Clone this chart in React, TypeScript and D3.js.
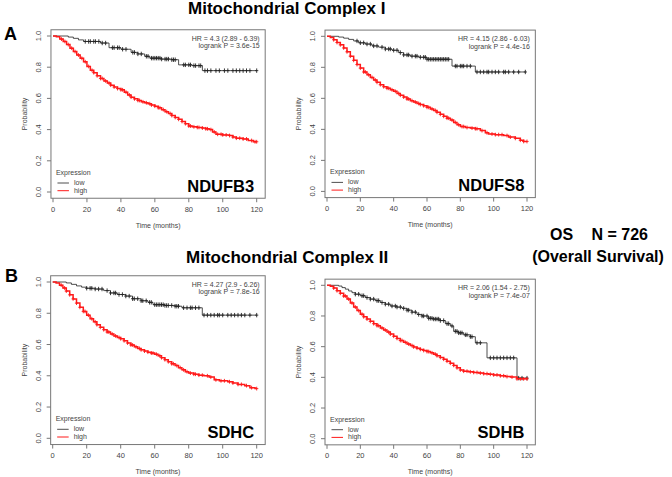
import React from 'react';
import * as d3 from 'd3';

type Pt = [number, number];

// Kaplan-Meier steps: [time (months), survival probability]
const lowNdufb3: Pt[] = [[0, 1], [9, 0.993], [12, 0.985], [15, 0.975], [18, 0.965], [28, 0.955], [33, 0.925], [40, 0.915], [46, 0.895], [50, 0.885], [54, 0.87], [57, 0.858], [64, 0.852], [70, 0.848], [74, 0.815], [82, 0.81], [88, 0.778]];
const lowNdufb3Cens = [19, 21, 22, 24, 25, 27, 29, 31, 35, 36, 38, 39, 41, 43, 47, 48, 50, 52, 55, 56, 58, 59, 60, 61, 62, 63, 64, 66, 67, 68, 70, 71, 72, 77, 78, 80, 81, 83, 84, 86, 87, 89.5, 91, 93, 96, 98, 101, 103, 106, 108, 110, 112, 114, 116, 120];
const highNdufb3: Pt[] = [[0, 1], [2, 0.995], [4, 0.98], [6, 0.965], [8, 0.945], [10, 0.922], [12, 0.9], [14, 0.878], [16, 0.857], [18, 0.835], [20, 0.805], [22, 0.78], [24, 0.765], [26, 0.745], [28, 0.728], [30, 0.712], [32, 0.698], [34, 0.685], [36, 0.673], [38, 0.663], [40, 0.655], [42, 0.64], [44, 0.622], [46, 0.608], [48, 0.597], [50, 0.587], [52, 0.578], [54, 0.572], [56, 0.566], [58, 0.558], [60, 0.55], [62, 0.54], [64, 0.528], [66, 0.515], [68, 0.503], [70, 0.49], [72, 0.478], [74, 0.466], [76, 0.452], [78, 0.438], [80, 0.423], [82, 0.418], [85, 0.414], [88, 0.41], [90, 0.405], [92, 0.4], [94, 0.385], [96, 0.37], [100, 0.366], [104, 0.362], [106, 0.352], [108, 0.345], [112, 0.34], [115, 0.33], [118, 0.322]];
const highNdufb3Cens = [5, 7, 9, 11, 13, 15, 17, 19, 21, 23, 24, 26, 28, 29, 31, 33, 34, 36, 38, 40, 41, 43, 45, 46, 48, 50, 51, 53, 55, 57, 58, 60, 62, 63, 65, 67, 69, 70, 72, 74, 76, 78, 80, 81, 83, 85, 86, 88, 90, 91, 93, 95, 97, 99, 100, 102, 104, 106, 108, 110, 112, 114, 117, 119, 120];

const lowNdufs8: Pt[] = [[0, 1], [7, 0.995], [10, 0.988], [13, 0.98], [16, 0.97], [19, 0.958], [23, 0.95], [27, 0.938], [31, 0.93], [35, 0.918], [39, 0.91], [43, 0.895], [46, 0.88], [50, 0.872], [55, 0.865], [60, 0.852], [75, 0.808], [89, 0.77]];
const lowNdufs8Cens = [18, 20, 22, 24, 26, 28, 30, 33, 35, 37, 38, 40, 42, 44, 46, 48, 49, 51, 53, 54, 56, 58, 59, 60, 61, 62, 63, 64, 65, 66, 67, 68, 69, 70, 71, 72, 73, 77, 78, 80, 81, 82, 84, 86, 90, 92, 94, 96, 97, 99, 101, 103, 106, 107, 109, 112, 115, 119];
const highNdufs8: Pt[] = [[0, 1], [2, 0.992], [4, 0.978], [6, 0.96], [8, 0.945], [10, 0.925], [12, 0.9], [14, 0.872], [16, 0.845], [18, 0.818], [20, 0.795], [22, 0.77], [24, 0.752], [26, 0.735], [28, 0.718], [30, 0.703], [32, 0.688], [34, 0.675], [36, 0.665], [38, 0.655], [40, 0.645], [42, 0.632], [44, 0.62], [46, 0.608], [48, 0.596], [50, 0.585], [52, 0.576], [54, 0.567], [56, 0.56], [58, 0.552], [60, 0.542], [62, 0.532], [64, 0.522], [66, 0.51], [68, 0.497], [70, 0.484], [72, 0.472], [74, 0.46], [76, 0.445], [78, 0.43], [80, 0.418], [83, 0.412], [86, 0.408], [89, 0.404], [92, 0.392], [95, 0.378], [97, 0.37], [101, 0.366], [106, 0.36], [109, 0.35], [113, 0.342], [116, 0.33], [118, 0.322]];
const highNdufs8Cens = [4, 6, 8, 10, 12, 14, 16, 18, 20, 22, 23, 25, 27, 29, 30, 32, 34, 36, 37, 39, 41, 43, 44, 46, 48, 49, 51, 53, 55, 56, 58, 60, 61, 63, 65, 66, 68, 70, 72, 73, 75, 77, 79, 81, 82, 84, 87, 89, 90, 93, 96, 99, 101, 103, 105, 108, 110, 113, 116, 118, 120];

const lowSdhc: Pt[] = [[0, 1], [8, 0.994], [11, 0.985], [14, 0.975], [17, 0.967], [20, 0.96], [25, 0.955], [30, 0.945], [34, 0.93], [38, 0.92], [43, 0.91], [47, 0.893], [52, 0.88], [56, 0.87], [59, 0.855], [66, 0.85], [72, 0.845], [76, 0.835], [88, 0.788]];
const lowSdhcCens = [20, 22, 23, 25, 27, 29, 32, 34, 36, 37, 39, 41, 43, 45, 47, 48, 50, 52, 53, 55, 57, 58, 60, 61, 62, 63, 64, 65, 66, 67, 68, 70, 72, 73, 74, 77, 79, 81, 82, 84, 86, 89, 91, 93, 95, 97, 98, 100, 103, 105, 107, 109, 111, 113, 116, 120];
const highSdhc: Pt[] = [[0, 1], [2, 0.993], [4, 0.98], [6, 0.962], [8, 0.942], [10, 0.918], [12, 0.892], [14, 0.865], [16, 0.838], [18, 0.812], [20, 0.788], [22, 0.765], [24, 0.745], [26, 0.727], [28, 0.71], [30, 0.695], [32, 0.68], [34, 0.667], [36, 0.655], [38, 0.645], [40, 0.637], [42, 0.624], [44, 0.61], [46, 0.597], [48, 0.585], [50, 0.575], [52, 0.566], [54, 0.558], [56, 0.551], [58, 0.545], [60, 0.538], [62, 0.528], [64, 0.516], [66, 0.503], [68, 0.49], [70, 0.477], [72, 0.465], [74, 0.452], [76, 0.438], [78, 0.426], [80, 0.417], [83, 0.41], [86, 0.404], [89, 0.4], [92, 0.392], [95, 0.374], [98, 0.368], [103, 0.362], [106, 0.354], [109, 0.345], [113, 0.337], [116, 0.324], [119, 0.318]];
const highSdhcCens = [5, 7, 8, 10, 12, 14, 16, 18, 19, 21, 23, 25, 26, 28, 30, 32, 33, 35, 37, 39, 40, 42, 44, 46, 47, 49, 51, 52, 54, 56, 58, 59, 61, 63, 64, 66, 68, 70, 71, 73, 75, 77, 79, 81, 83, 84, 86, 88, 91, 93, 96, 99, 101, 104, 106, 109, 111, 114, 117, 120];

const lowSdhb: Pt[] = [[0, 1], [7, 0.995], [9, 0.985], [11, 0.975], [13, 0.963], [15, 0.952], [17, 0.942], [20, 0.932], [23, 0.92], [26, 0.91], [29, 0.9], [32, 0.888], [35, 0.877], [38, 0.865], [42, 0.858], [45, 0.85], [48, 0.838], [51, 0.825], [54, 0.81], [57, 0.8], [61, 0.785], [64, 0.78], [68, 0.77], [71, 0.75], [74, 0.735], [76, 0.7], [79, 0.69], [82, 0.677], [86, 0.665], [89, 0.625], [96, 0.527], [114, 0.395]];
const lowSdhbCens = [17, 19, 21, 22, 24, 26, 28, 30, 31, 33, 35, 37, 39, 41, 42, 44, 46, 48, 49, 51, 53, 55, 57, 58, 60, 61, 62, 63, 64, 65, 66, 67, 68, 70, 72, 73, 75, 77, 78, 79, 80, 81, 83, 84, 86, 87, 90, 92, 98, 100, 102, 104, 106, 108, 110, 112, 115, 117, 120];
const highSdhb: Pt[] = [[0, 1], [2, 0.993], [4, 0.982], [6, 0.965], [8, 0.948], [10, 0.93], [12, 0.91], [14, 0.885], [16, 0.858], [18, 0.835], [20, 0.812], [22, 0.795], [24, 0.78], [26, 0.765], [28, 0.75], [30, 0.737], [32, 0.722], [34, 0.708], [36, 0.695], [38, 0.682], [40, 0.668], [42, 0.654], [44, 0.64], [46, 0.628], [48, 0.617], [50, 0.607], [52, 0.598], [54, 0.59], [56, 0.582], [58, 0.575], [60, 0.568], [62, 0.56], [64, 0.551], [66, 0.541], [68, 0.53], [70, 0.518], [72, 0.505], [74, 0.492], [76, 0.478], [78, 0.462], [80, 0.448], [82, 0.44], [85, 0.436], [88, 0.432], [91, 0.428], [94, 0.424], [97, 0.42], [100, 0.416], [104, 0.41], [107, 0.405], [110, 0.402], [114, 0.39]];
const highSdhbCens = [4, 6, 8, 10, 11, 13, 15, 17, 19, 21, 22, 24, 26, 28, 30, 31, 33, 35, 37, 38, 40, 42, 44, 45, 47, 49, 51, 52, 54, 56, 58, 60, 61, 63, 65, 66, 68, 70, 72, 74, 76, 78, 80, 82, 84, 86, 88, 90, 92, 94, 96, 98, 100, 102, 104, 106, 108, 111, 114, 116, 118, 120];

const xTicks = [0, 20, 40, 60, 80, 100, 120];
const yTicks = [0, 0.2, 0.4, 0.6, 0.8, 1.0];

// pixel anchors of each panel: where month 0 / 120 and prob 0 / 1 fall
const panels = [
  { gene: 'NDUFB3', hr: 'HR = 4.3 (2.89 - 6.39)', p: 'logrank P = 3.6e-15', low: lowNdufb3, lowCens: lowNdufb3Cens, high: highNdufb3, highCens: highNdufb3Cens, x0: 53, x120: 256.7, y0: 192, y1: 36 },
  { gene: 'NDUFS8', hr: 'HR = 4.15 (2.86 - 6.03)', p: 'logrank P = 4.4e-16', low: lowNdufs8, lowCens: lowNdufs8Cens, high: highNdufs8, highCens: highNdufs8Cens, x0: 327, x120: 527, y0: 191.4, y1: 36.3 },
  { gene: 'SDHC', hr: 'HR = 4.27 (2.9 - 6.26)', p: 'logrank P = 7.8e-16', low: lowSdhc, lowCens: lowSdhcCens, high: highSdhc, highCens: highSdhcCens, x0: 52.7, x120: 256.7, y0: 438.3, y1: 282 },
  { gene: 'SDHB', hr: 'HR = 2.06 (1.54 - 2.75)', p: 'logrank P = 7.4e-07', low: lowSdhb, lowCens: lowSdhbCens, high: highSdhb, highCens: highSdhbCens, x0: 327, x120: 527, y0: 438.7, y1: 285.3 },
];

const FONT = 'Liberation Sans, Arial, sans-serif';
const RED = '#ff1a1a';
const INK = '#444';

const survAt = (steps: Pt[], t: number) => {
  let s = steps[0][1];
  for (const [tt, v] of steps) if (tt <= t) s = v;
  return s;
};

const KMPanel: React.FC<{ cfg: typeof panels[number] }> = ({ cfg }) => {
  const x = d3.scaleLinear().domain([0, 120]).range([cfg.x0, cfg.x120]);
  const y = d3.scaleLinear().domain([0, 1]).range([cfg.y0, cfg.y1]);
  const left = x(-1.2), right = x(125), top = y(1.04), bottom = y(-0.04);

  const line = d3.line<Pt>().x(d => x(d[0])).y(d => y(d[1])).curve(d3.curveStepAfter);

  const curve = (steps: Pt[], cens: number[], color: string, w: number, mark: number) => {
    const end = d3.max(cens) ?? 120;
    const pts: Pt[] = [...steps, [end, steps[steps.length - 1][1]]];
    return (
      <g>
        <path d={line(pts) ?? ''} fill="none" stroke={color} strokeWidth={w} />
        {cens.map((t, i) => {
          const cx = x(t), cy = y(survAt(steps, t));
          return (
            <g key={i} stroke={color} strokeWidth={0.9}>
              <line x1={cx} x2={cx} y1={cy - mark} y2={cy + mark} />
              <line x1={cx - 1.6} x2={cx + 1.6} y1={cy} y2={cy} />
            </g>
          );
        })}
      </g>
    );
  };

  return (
    <g fontFamily={FONT}>
      <rect x={left} y={top} width={right - left} height={bottom - top} fill="none" stroke="#777" strokeWidth={1} />
      {xTicks.map(t => (
        <g key={t}>
          <line x1={x(t)} x2={x(t)} y1={bottom} y2={bottom + 4} stroke="#777" />
          <text x={x(t)} y={bottom + 11.5} fontSize={7.5} fill={INK} textAnchor="middle" dominantBaseline="middle">{t}</text>
        </g>
      ))}
      {yTicks.map(t => (
        <g key={t}>
          <line x1={left - 4} x2={left} y1={y(t)} y2={y(t)} stroke="#777" />
          <text transform={`translate(${left - 11.5},${y(t)}) rotate(-90)`} fontSize={7.5} fill={INK} textAnchor="middle" dominantBaseline="middle">{d3.format('.1f')(t)}</text>
        </g>
      ))}
      <text x={(left + right) / 2} y={bottom + 27.5} fontSize={7} fill={INK} textAnchor="middle" dominantBaseline="middle">Time (months)</text>
      <text transform={`translate(${left - 26},${(top + bottom) / 2}) rotate(-90)`} fontSize={7} fill={INK} textAnchor="middle" dominantBaseline="middle">Probability</text>

      {curve(cfg.low, cfg.lowCens, '#222', 0.8, 2.2)}
      {curve(cfg.high, cfg.highCens, RED, 1.5, 1.9)}

      <text x={right - 5.5} y={top + 11} fontSize={7} fill={INK} textAnchor="end">{cfg.hr}</text>
      <text x={right - 5.5} y={top + 18.5} fontSize={7} fill={INK} textAnchor="end">{cfg.p}</text>

      <text x={left + 5} y={cfg.y0 - 19} fontSize={7} fill={INK} dominantBaseline="middle">Expression</text>
      <line x1={left + 6.5} x2={left + 18} y1={cfg.y0 - 9} y2={cfg.y0 - 9} stroke="#222" strokeWidth={0.8} />
      <text x={left + 23} y={cfg.y0 - 9} fontSize={7} fill={INK} dominantBaseline="middle">low</text>
      <line x1={left + 6.5} x2={left + 18} y1={cfg.y0 - 1.3} y2={cfg.y0 - 1.3} stroke={RED} strokeWidth={1} />
      <text x={left + 23} y={cfg.y0 - 1.3} fontSize={7} fill={INK} dominantBaseline="middle">high</text>

      <text x={right - 11} y={cfg.y0 - 0.5} fontSize={16.5} fontWeight="bold" fill="#000" textAnchor="end">{cfg.gene}</text>
    </g>
  );
};

export default function App() {
  return (
    <svg width={672} height={477} style={{ position: 'absolute', left: 0, top: 0, background: '#fff' }} fontFamily={FONT}>
      <rect width={672} height={477} fill="#fff" />
      <text x={188} y={14} fontSize={17} fontWeight="bold">Mitochondrial Complex I</text>
      <text x={186} y={263} fontSize={17} fontWeight="bold">Mitochondrial Complex II</text>
      <text x={4} y={40} fontSize={18} fontWeight="bold">A</text>
      <text x={5} y={282} fontSize={18} fontWeight="bold">B</text>
      <text x={550} y={240} fontSize={16} fontWeight="bold">OS</text>
      <text x={648} y={240} fontSize={16} fontWeight="bold" textAnchor="end">N = 726</text>
      <text x={598} y={262} fontSize={16} fontWeight="bold" textAnchor="middle">(Overall Survival)</text>
      {panels.map(p => <KMPanel key={p.gene} cfg={p} />)}
    </svg>
  );
}
